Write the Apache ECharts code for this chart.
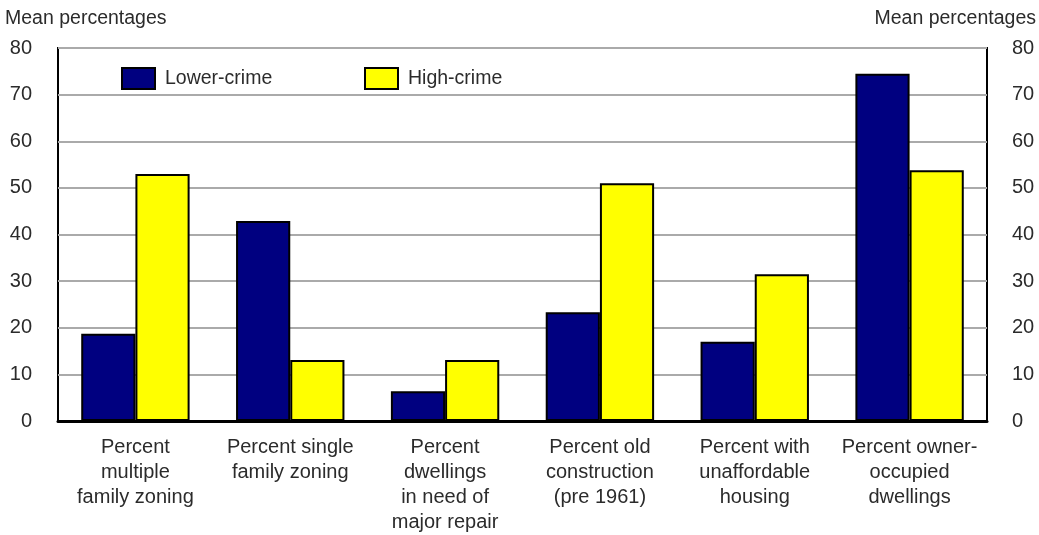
<!DOCTYPE html>
<html>
<head>
<meta charset="utf-8">
<script src="https://cdn.jsdelivr.net/npm/echarts@6/dist/echarts.min.js"></script>
<style>
  html, body { margin: 0; padding: 0; background: #fff; }
  #chart { width: 1039px; height: 535px; }
</style>
</head>
<body>
<div id="chart"></div>
<script>
// categories (x axis)
const categories = [
  'Percent\nmultiple\nfamily zoning',
  'Percent single\nfamily zoning',
  'Percent\ndwellings\nin need of\nmajor repair',
  'Percent old\nconstruction\n(pre 1961)',
  'Percent with\nunaffordable\nhousing',
  'Percent owner-\noccupied\ndwellings'
]
const lowerCrime = [18.7, 42.9, 6.4, 23.3, 17.0, 74.5]
const highCrime = [53.0, 13.1, 13.1, 51.0, 31.5, 53.8]
const axisTitle = 'Mean percentages'

const font = "'Liberation Sans Narrow', 'Arial Narrow', 'Liberation Sans', sans-serif"
const txt = '#2b2b2b'

function legendAt (left, name) {
  return {
    left: left,
    top: 62,
    itemWidth: 33,
    itemHeight: 21,
    icon: 'rect',
    textStyle: { fontSize: 19.5, color: txt, fontFamily: font, padding: [0, 0, 0, 5] },
    data: [name]
  }
}

var myChart = echarts.init(document.getElementById('chart'))
myChart.setOption({
  animation: false,
  textStyle: { fontFamily: font },
  grid: {
    left: 58,
    right: 52,
    top: 48,
    bottom: 112,
    show: true,
    borderColor: '#000',
    borderWidth: 2,
    backgroundColor: '#fff'
  },
  legend: [legendAt(116, 'Lower-crime'), legendAt(359, 'High-crime')],
  graphic: [
    {
      type: 'text', left: 5, top: 9,
      style: { text: axisTitle, fontSize: 19.5, fill: txt, fontFamily: font }
    },
    {
      type: 'text', right: 3, top: 9,
      style: { text: axisTitle, fontSize: 19.5, fill: txt, fontFamily: font }
    }
  ],
  xAxis: {
    type: 'category',
    data: categories,
    axisTick: { show: false },
    axisLine: { lineStyle: { color: '#000', width: 3 } },
    axisLabel: {
      interval: 0,
      margin: 14,
      fontSize: 20,
      lineHeight: 25,
      color: txt,
      fontFamily: font
    }
  },
  yAxis: [
    {
      type: 'value',
      min: 0,
      max: 80,
      interval: 10,
      position: 'left',
      axisLine: { show: false },
      axisTick: { show: false },
      axisLabel: { fontSize: 20, color: txt, margin: 26, fontFamily: font },
      splitLine: { lineStyle: { color: '#aaa', width: 2 } }
    },
    {
      type: 'value',
      min: 0,
      max: 80,
      interval: 10,
      position: 'right',
      axisLine: { show: false },
      axisTick: { show: false },
      axisLabel: { fontSize: 20, color: txt, margin: 25, fontFamily: font },
      splitLine: { show: false }
    }
  ],
  series: [
    {
      name: 'Lower-crime',
      type: 'bar',
      data: lowerCrime,
      barGap: '0%',
      barCategoryGap: '30%',
      itemStyle: { color: '#000080', borderColor: '#000', borderWidth: 2 }
    },
    {
      name: 'High-crime',
      type: 'bar',
      data: highCrime,
      itemStyle: { color: '#ffff00', borderColor: '#000', borderWidth: 2 }
    }
  ]
})
</script>
</body>
</html>
